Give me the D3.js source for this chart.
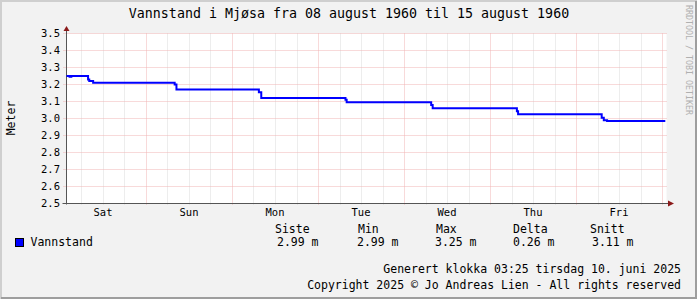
<!DOCTYPE html>
<html>
<head>
<meta charset="utf-8">
<script src="https://cdn.jsdelivr.net/npm/d3@7"></script>
<style>
  body { margin: 0; background: #fff; }
  svg text { font-family: "DejaVu Sans Mono", monospace; fill: #000; }
</style>
</head>
<body>
<div id="draw"></div>
<script>
// water level readings (UTC), step series
let times = [
  "1960-08-13T01:49", "1960-08-13T02:40", "1960-08-13T03:10", "1960-08-13T07:50",
  "1960-08-13T08:10", "1960-08-13T09:15", "1960-08-14T08:00", "1960-08-14T08:30",
  "1960-08-15T07:30", "1960-08-15T08:10", "1960-08-16T07:40", "1960-08-16T08:00",
  "1960-08-17T07:35", "1960-08-17T08:00", "1960-08-18T07:30", "1960-08-18T07:50",
  "1960-08-19T07:10", "1960-08-19T07:45", "1960-08-19T08:40", "1960-08-20T00:55"
];
let levels = [
  3.25, 3.245, 3.25, 3.23,
  3.22, 3.21, 3.20, 3.17,
  3.155, 3.12, 3.11, 3.095,
  3.08, 3.06, 3.043, 3.025,
  3.005, 2.99, 2.985, 2.985
];
let yTicks = [2.5, 2.6, 2.7, 2.8, 2.9, 3.0, 3.1, 3.2, 3.3, 3.4, 3.5];
let statNames = ["Siste", "Min", "Max", "Delta", "Snitt"];
let statValues = ["2.99 m", "2.99 m", "3.25 m", "0.26 m", "3.11 m"];
let seriesName = "Vannstand";
let title = "Vannstand i Mjøsa fra 08 august 1960 til 15 august 1960";
let footer = ["Generert klokka 03:25 tirsdag 10. juni 2025",
              "Copyright 2025 \u00a9 Jo Andreas Lien - All rights reserved"];

let W = 697, H = 299;
let parse = d3.utcParse("%Y-%m-%dT%H:%M");
let data = times.map((t, i) => ({t: parse(t), v: levels[i]}));

let x0 = 66.5, x1 = 666.5, yTop = 33.5, yBot = 203.5;
let x = d3.scaleUtc()
  .domain([parse("1960-08-13T01:49"), parse("1960-08-20T01:15")])
  .range([x0, x1]);
let y = d3.scaleLinear().domain([2.5, 3.5]).range([yBot, yTop]);

let svg = d3.select('#draw').append('svg')
  .attr('width', W).attr('height', H);

// background + 3d frame
svg.append('rect').attr('width', W).attr('height', H).attr('fill', '#f2f2f2');
svg.append('path').attr('d', `M1,${H} V1 H${W}`).attr('stroke', '#cfcfcf')
  .attr('stroke-width', 2).attr('fill', 'none');
svg.append('path').attr('d', `M1,${H-1} H${W-1} V1`).attr('stroke', '#9e9e9e')
  .attr('stroke-width', 2).attr('fill', 'none');

// canvas
svg.append('rect').attr('x', x0).attr('y', yTop).attr('width', x1 - x0).attr('height', yBot - yTop)
  .attr('fill', '#fff');

// vertical grid, every 6 hours, red at midnight
let hours = d3.utcHour.every(6).range(x.domain()[0], x.domain()[1]);
svg.append('g').selectAll('line').data(hours).join('line')
  .attr('x1', d => Math.round(x(d)) + 0.5).attr('x2', d => Math.round(x(d)) + 0.5)
  .attr('y1', yTop).attr('y2', yBot + 2)
  .attr('stroke', d => d.getUTCHours() === 0 ? '#f0b4b4' : '#dadada')
  .attr('stroke-dasharray', '1,1');

// horizontal grid
svg.append('g').selectAll('line').data(yTicks.slice(1)).join('line')
  .attr('x1', x0 - 3).attr('x2', x1)
  .attr('y1', d => y(d)).attr('y2', d => y(d))
  .attr('stroke', '#f0b4b4')
  .attr('stroke-dasharray', '1,1');

// y labels
svg.append('g').selectAll('text').data(yTicks).join('text')
  .attr('x', 60).attr('y', d => y(d) + 3.5)
  .attr('text-anchor', 'end').attr('font-size', '10.5px')
  .text(d => d.toFixed(1));

// day labels at noon
let days = d3.utcDay.range(d3.utcDay.floor(x.domain()[0]), x.domain()[1])
  .map(d => d3.utcHour.offset(d, 12))
  .filter(d => d > x.domain()[0] && d < x.domain()[1]);
svg.append('g').selectAll('text').data(days).join('text')
  .attr('x', d => x(d)).attr('y', 216)
  .attr('text-anchor', 'middle').attr('font-size', '10.5px')
  .text(d3.utcFormat('%a'));

// axes
svg.append('line').attr('x1', x0).attr('x2', x0).attr('y1', yBot + 1).attr('y2', 29)
  .attr('stroke', '#555');
svg.append('line').attr('x1', x0 - 4).attr('x2', 670).attr('y1', yBot).attr('y2', yBot)
  .attr('stroke', '#555');
svg.append('path').attr('d', `M${x0 - 3},31 L${x0},26 L${x0 + 3},31 Z`).attr('fill', '#8b1a1a');
svg.append('path').attr('d', `M668,${yBot - 3} L674,${yBot} L668,${yBot + 3} Z`).attr('fill', '#8b1a1a');

// the series
let line = d3.line().x(d => x(d.t)).y(d => y(d.v)).curve(d3.curveStepAfter);
svg.append('path').datum(data).attr('d', line)
  .attr('fill', 'none').attr('stroke', '#0000ff').attr('stroke-width', 2);

// title
svg.append('text').attr('x', 349).attr('y', 18).attr('text-anchor', 'middle')
  .attr('font-size', '13.3px').text(title);

// y axis title
svg.append('text').attr('transform', 'translate(15,118) rotate(-90)')
  .attr('text-anchor', 'middle').attr('font-size', '11.5px').text('Meter');

// watermark
svg.append('text').attr('transform', 'translate(686,5) rotate(90)')
  .attr('font-size', '8.3px').style('fill', '#b0b0b0').text('RRDTOOL / TOBI OETIKER');

// legend
svg.append('rect').attr('x', 15.5).attr('y', 238.5).attr('width', 8).attr('height', 8)
  .attr('fill', '#0000ff').attr('stroke', '#000');
svg.append('text').attr('x', 30.5).attr('y', 246).attr('font-size', '11.5px').text(seriesName);

let statX = [275, 358, 436, 513, 590];
let valX = [277, 357, 435, 513, 592];
svg.append('g').selectAll('text').data(statNames).join('text')
  .attr('x', (d, i) => statX[i]).attr('y', 232.5).attr('font-size', '11.5px')
  .text(d => d);
svg.append('g').selectAll('text').data(statValues).join('text')
  .attr('x', (d, i) => valX[i]).attr('y', 246).attr('font-size', '11.5px')
  .text(d => d);

// footer
svg.append('g').selectAll('text').data(footer).join('text')
  .attr('x', 681).attr('y', (d, i) => 273 + i * 16).attr('text-anchor', 'end')
  .attr('font-size', '11.5px').text(d => d);
</script>
</body>
</html>
